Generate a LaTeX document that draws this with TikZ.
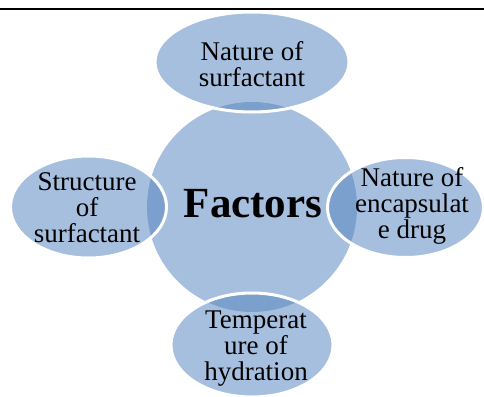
\documentclass[tikz,border=0pt]{standalone}
\usepackage{fontspec}
\setmainfont{Liberation Serif}
\definecolor{lightb}{HTML}{A7BFDE}
\definecolor{darkb}{HTML}{7BA0CD}
\begin{document}
\begin{tikzpicture}[x=1pt,y=-1pt,
  sat/.style={align=center,font=\fontsize{27}{26}\selectfont,inner sep=0pt,text=black},
  hub/.style={font=\fontsize{43}{43}\selectfont\bfseries,inner sep=0pt,text=black}]
\useasboundingbox (0,0) rectangle (484,396);
\fill[white] (0,0) rectangle (484,396);
\fill[lightb] (252,207) circle (105);
\foreach \cx/\cy/\rx/\ry in {252/62/97/50, 405.5/207.5/78/50, 88.5/207/78/51, 252/345/81/52}{
  \fill[lightb] (\cx,\cy) ellipse [x radius=\rx, y radius=\ry];
  \begin{scope}
    \clip (\cx,\cy) ellipse [x radius=\rx, y radius=\ry];
    \fill[darkb] (252,207) circle (105);
  \end{scope}
  \draw[white, line width=3] (\cx,\cy) ellipse [x radius=\rx, y radius=\ry];
}
\draw[black, line width=2] (0,9) -- (484,9);
\node[hub] (hub) at (253,204) {Factors};
\node[sat] (top) at (252,64) {Nature of\\surfactant};
\node[sat] (right) at (412,206) {Nature of\\encapsulat\\e drug};
\node[sat] (left) at (87,208) {Structure\\of\\surfactant};
\node[sat] (bottom) at (256,349) {Temperat\\ure of\\hydration};
\end{tikzpicture}
\end{document}
